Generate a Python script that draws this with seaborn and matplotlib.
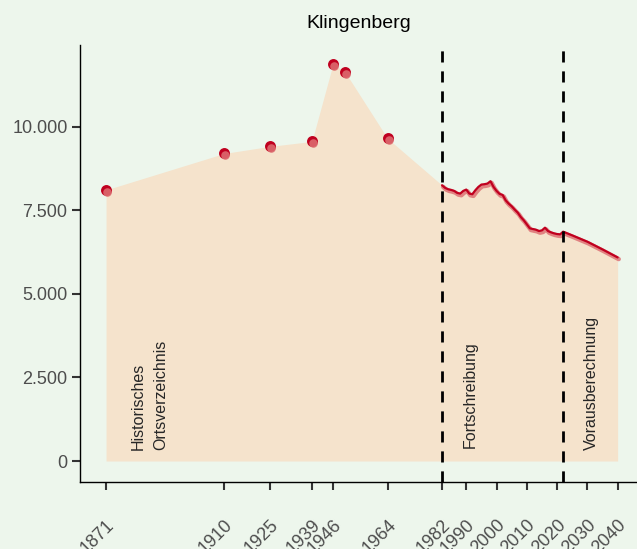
import numpy as np
import pandas as pd
import matplotlib
matplotlib.use('Agg')
import matplotlib.pyplot as plt
import matplotlib.transforms as mtransforms
import seaborn as sns

# Historic census values (Historisches Ortsverzeichnis)
hist_years = [1871, 1910, 1925, 1939, 1946, 1950, 1964]
hist_pop = [8110, 9200, 9410, 9560, 11880, 11630, 9650]

# Annual updates (Fortschreibung)
fort_years = list(range(1982, 2023))
fort_pop = [8250, 8170, 8130, 8110, 8080, 8020, 8000, 8080, 8120, 8000,
            7980, 8100, 8200, 8270, 8280, 8300, 8370, 8200, 8080, 7990,
            7960, 7800, 7700, 7620, 7520, 7430, 7300, 7200, 7080, 6960,
            6940, 6920, 6880, 6900, 6980, 6880, 6840, 6810, 6790, 6780,
            6860]

# Projection (Vorausberechnung)
proj_years = [2022, 2025, 2030, 2035, 2040]
proj_pop = [6860, 6750, 6560, 6330, 6090]

tick_years = [1871, 1910, 1925, 1939, 1946, 1964, 1982, 1990, 2000,
              2010, 2020, 2030, 2040]
y_ticks = [0, 2500, 5000, 7500, 10000]
breaks = [1982, 2022]

bg = '#edf6ec'
fill_col = '#f5e3cc'
red = '#c0001f'
light_red = '#dc6a6e'

sns.set_theme(style='ticks', rc={'figure.facecolor': bg, 'axes.facecolor': bg})
plt.rcParams['font.family'] = ['Liberation Sans', 'DejaVu Sans']

fig = plt.figure(figsize=(6.37, 5.49), dpi=100)
ax = fig.add_axes([0.1256, 0.122, 0.8744, 0.796])

# combined series for the area
all_df = pd.concat([
    pd.DataFrame({'year': hist_years, 'pop': hist_pop}),
    pd.DataFrame({'year': fort_years, 'pop': fort_pop}),
    pd.DataFrame({'year': proj_years[1:], 'pop': proj_pop[1:]}),
]).sort_values('year')
ax.fill_between(all_df['year'], 0, all_df['pop'], color=fill_col, lw=0, zorder=1)

line_df = pd.concat([
    pd.DataFrame({'year': fort_years, 'pop': fort_pop}),
    pd.DataFrame({'year': proj_years[1:], 'pop': proj_pop[1:]}),
])
shift = mtransforms.offset_copy(ax.transData, fig=fig, x=0.8, y=-1.2, units='points')
ax.plot(line_df['year'], line_df['pop'], color=light_red, lw=3.2, alpha=0.8,
        transform=shift, zorder=2, solid_capstyle='round')
sns.lineplot(x='year', y='pop', data=line_df, color=red, lw=1.6, ax=ax,
             sort=False, zorder=3)

hist_df = pd.DataFrame({'year': hist_years, 'pop': hist_pop})
sns.scatterplot(x='year', y='pop', data=hist_df, color=red, s=62, lw=0, ax=ax, zorder=4)
ax.scatter(hist_df['year'], hist_df['pop'], color=light_red, s=38, lw=0,
           transform=shift, zorder=5, alpha=0.9)

for b in breaks:
    ax.axvline(b, color='black', lw=2, ls=(0, (4, 3.2)), zorder=6)

ax.text(1881.8, 320, 'Historisches', rotation=90, ha='center', va='bottom', fontsize=11.5)
ax.text(1889.0, 320, 'Ortsverzeichnis', rotation=90, ha='center', va='bottom', fontsize=11.5)
ax.text(1991.3, 390, 'Fortschreibung', rotation=90, ha='center', va='bottom', fontsize=11.5)
ax.text(2031.5, 320, 'Vorausberechnung', rotation=90, ha='center', va='bottom', fontsize=11.5)

ax.set_xlim(1862.4, 2046.4)
ax.set_ylim(-628, 12444)
ax.set_xticks(tick_years)
ax.set_xticklabels([str(t) for t in tick_years], rotation=45, ha='right',
                   rotation_mode='anchor')
ax.set_yticks(y_ticks)
ax.set_yticklabels([f'{v:,}'.replace(',', '.') for v in y_ticks])
ax.tick_params(axis='both', colors='#333333', labelcolor='#4d4d4d',
               labelsize=13, length=6, width=1.5)
ax.tick_params(axis='x', pad=19)
ax.tick_params(axis='y', pad=3)
for s in ['top', 'right']:
    ax.spines[s].set_visible(False)
for s in ['left', 'bottom']:
    ax.spines[s].set_color('black')
    ax.spines[s].set_linewidth(1)
ax.set_xlabel('')
ax.set_ylabel('')
ax.set_title('Klingenberg', fontsize=14, pad=12, color='black')

fig.savefig('out.png', dpi=100, facecolor=bg)
